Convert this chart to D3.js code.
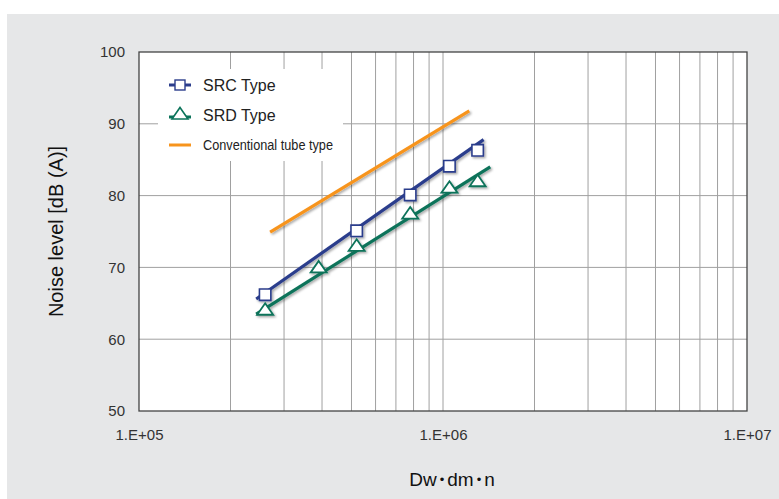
<!DOCTYPE html>
<html><head><meta charset="utf-8">
<script src="https://cdn.jsdelivr.net/npm/d3@7"></script>
<style>html,body{margin:0;padding:0;background:#fff;}svg{display:block;}</style>
</head><body>
<script>
// ---- data ----
const srcX = [2.6e5, 5.2e5, 7.8e5, 1.05e6, 1.3e6];
const srcY = [66.2, 75.1, 80.1, 84.1, 86.3];
const srdX = [2.6e5, 3.9e5, 5.2e5, 7.8e5, 1.05e6, 1.3e6];
const srdY = [64.1, 70.0, 73.0, 77.5, 81.1, 82.0];
const srcFitX = [2.43e5, 1.36e6];
const srcFitY = [65.6, 87.8];
const srdFitX = [2.43e5, 1.43e6];
const srdFitY = [63.5, 84.0];
const convX = [2.7e5, 1.22e6];
const convY = [74.9, 91.8];
const yTicks = [50, 60, 70, 80, 90, 100];
const xTicks = [1e5, 1e6, 1e7];
const xTickLabels = ["1.E+05", "1.E+06", "1.E+07"];
const legendLabels = ["SRC Type", "SRD Type", "Conventional tube type"];
const xTitleParts = ["Dw", "•", "dm", "•", "n"];

const W = 779, H = 499;
const C = {src: "#2b3d8c", srd: "#0b735a", conv: "#f7941d"};
const FONT = "Liberation Sans, Arial, sans-serif";
const svg = d3.select("body").append("svg").attr("width", W).attr("height", H);

const defs = svg.append("defs");
const f = defs.append("filter").attr("id", "sh").attr("x", "-20%").attr("y", "-20%").attr("width", "140%").attr("height", "140%");
f.append("feDropShadow").attr("dx", 1.5).attr("dy", 1.5).attr("stdDeviation", 0.8).attr("flood-color", "#000").attr("flood-opacity", 0.35);

svg.append("rect").attr("x", 7).attr("y", 14).attr("width", W - 7).attr("height", H - 14).attr("fill", "#e6e7e8");

const m = {l: 139, r: 747, t: 52, b: 411};
const x = d3.scaleLog().domain([1e5, 1e7]).range([m.l, m.r]);
const y = d3.scaleLinear().domain([50, 100]).range([m.b, m.t]);

svg.append("rect").attr("x", m.l).attr("y", m.t).attr("width", m.r - m.l).attr("height", m.b - m.t).attr("fill", "#fff");

// grid
const minor = [];
for (let d = 1e5; d < 1e7; d *= 10) for (let k = 2; k <= 10; k++) minor.push(d * k);
const g = svg.append("g");
g.selectAll("line.v").data(minor.filter(v => v < 1e7)).enter().append("line")
  .attr("x1", d => x(d)).attr("x2", d => x(d)).attr("y1", m.t).attr("y2", m.b)
  .attr("stroke", "#a0a0a0").attr("stroke-width", 1);
g.selectAll("line.h").data(yTicks.slice(1, -1)).enter().append("line")
  .attr("x1", m.l).attr("x2", m.r).attr("y1", d => y(d)).attr("y2", d => y(d))
  .attr("stroke", "#a0a0a0").attr("stroke-width", 1);

// border
svg.append("rect").attr("x", m.l).attr("y", m.t).attr("width", m.r - m.l).attr("height", m.b - m.t)
  .attr("fill", "none").attr("stroke", "#444").attr("stroke-width", 1.3);

// axes labels
const yAxis = d3.axisLeft(y).tickValues(yTicks).tickSize(0).tickPadding(14);
const ya = svg.append("g").attr("transform", `translate(${m.l},0)`).call(yAxis);
ya.select(".domain").remove();
ya.selectAll("text").attr("font-family", FONT).attr("font-size", 15).attr("fill", "#333");

const xAxis = d3.axisBottom(x).tickValues(xTicks).tickFormat((d, i) => xTickLabels[i]).tickSize(0).tickPadding(18);
const xa = svg.append("g").attr("transform", `translate(0,${m.b})`).call(xAxis);
xa.select(".domain").remove();
xa.selectAll("text").attr("font-family", FONT).attr("font-size", 15).attr("fill", "#333");

svg.append("text").attr("transform", `translate(63,${(m.t + m.b) / 2}) rotate(-90)`)
  .attr("text-anchor", "middle").attr("font-family", FONT)
  .attr("font-size", 20).attr("fill", "#111").text("Noise level [dB (A)]");
const xt = svg.append("text").attr("x", 452).attr("y", 486).attr("text-anchor", "middle")
  .attr("font-family", FONT).attr("font-size", 19).attr("fill", "#111");
xt.selectAll("tspan").data(xTitleParts).enter().append("tspan")
  .attr("dx", (d, i) => i === 0 ? 0 : 3)
  .attr("font-size", d => d === "•" ? 13 : 19)
  .attr("dy", (d, i) => d === "•" ? -2 : (i === 0 ? 0 : 2))
  .text(d => d);

// lines
const line = d3.line().x(d => x(d[0])).y(d => y(d[1]));
const plotG = svg.append("g").attr("filter", "url(#sh)");
plotG.append("path").datum(d3.zip(convX, convY)).attr("d", line).attr("stroke", C.conv).attr("stroke-width", 3.2).attr("fill", "none");
plotG.append("path").datum(d3.zip(srcFitX, srcFitY)).attr("d", line).attr("stroke", C.src).attr("stroke-width", 3.2).attr("fill", "none");
plotG.append("path").datum(d3.zip(srdFitX, srdFitY)).attr("d", line).attr("stroke", C.srd).attr("stroke-width", 3.2).attr("fill", "none");

const sq = d3.symbol().type(d3.symbolSquare).size(130);
const tri = (cx, cy) => `M${cx},${cy - 6.5}L${cx + 8},${cy + 5}L${cx - 8},${cy + 5}Z`;
plotG.selectAll("path.sq").data(d3.zip(srcX, srcY)).enter().append("path")
  .attr("d", sq).attr("transform", d => `translate(${x(d[0])},${y(d[1])})`)
  .attr("fill", "#fff").attr("stroke", C.src).attr("stroke-width", 1.6);
plotG.selectAll("path.tr").data(d3.zip(srdX, srdY)).enter().append("path")
  .attr("d", d => tri(x(d[0]), y(d[1]))).attr("fill", "#fff").attr("stroke", C.srd).attr("stroke-width", 1.8);

// legend
const lg = svg.append("g");
lg.append("rect").attr("x", 158).attr("y", 69).attr("width", 185).attr("height", 92).attr("fill", "#fff");
const ly = [85, 115, 145];
lg.append("line").attr("x1", 169).attr("x2", 191).attr("y1", ly[0]).attr("y2", ly[0]).attr("stroke", C.src).attr("stroke-width", 3);
lg.append("rect").attr("x", 175).attr("y", ly[0] - 5).attr("width", 10).attr("height", 10).attr("fill", "#fff").attr("stroke", C.src).attr("stroke-width", 1.4);
lg.append("line").attr("x1", 169).attr("x2", 191).attr("y1", ly[1] + 2).attr("y2", ly[1] + 2).attr("stroke", C.srd).attr("stroke-width", 3);
lg.append("path").attr("d", tri(180, ly[1] - 1)).attr("fill", "#fff").attr("stroke", C.srd).attr("stroke-width", 1.6);
lg.append("line").attr("x1", 169).attr("x2", 191).attr("y1", ly[2]).attr("y2", ly[2]).attr("stroke", C.conv).attr("stroke-width", 3);
lg.selectAll("text.l").data(legendLabels).enter().append("text")
  .attr("x", 203).attr("y", (d, i) => ly[i] + (i < 2 ? 6 : 5))
  .attr("font-family", FONT)
  .attr("font-size", (d, i) => i < 2 ? 16 : 14).attr("fill", "#222")
  .each(function (d, i) { if (i === 2) d3.select(this).attr("textLength", 130).attr("lengthAdjust", "spacingAndGlyphs"); })
  .text(d => d);
</script>
</body></html>
